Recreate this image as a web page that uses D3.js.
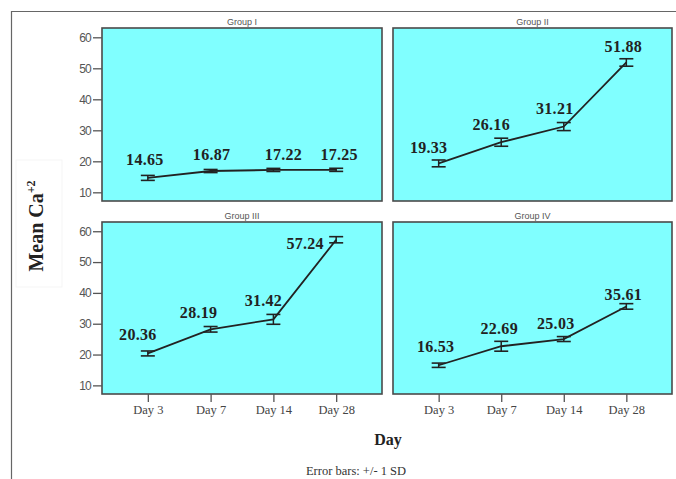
<!DOCTYPE html>
<html>
<head>
<meta charset="utf-8">
<script src="https://cdn.jsdelivr.net/npm/d3@7"></script>
<style>
  html, body { margin: 0; padding: 0; background: #fff; }
  svg { display: block; }
</style>
</head>
<body>
<svg id="chart" width="676" height="479"></svg>
<script>
// ---------- data ----------
const groups = ["Group I", "Group II", "Group III", "Group IV"];
const days = ["Day 3", "Day 7", "Day 14", "Day 28"];
const meanG1 = [14.65, 16.87, 17.22, 17.25];
const meanG2 = [19.33, 26.16, 31.21, 51.88];
const meanG3 = [20.36, 28.19, 31.42, 57.24];
const meanG4 = [16.53, 22.69, 25.03, 35.61];
const sdG1 = [0.8, 0.5, 0.5, 0.5];
const sdG2 = [1.1, 1.3, 1.3, 1.2];
const sdG3 = [0.8, 0.9, 1.6, 1.0];
const sdG4 = [0.7, 1.6, 0.8, 0.9];
const yTicks = [10, 20, 30, 40, 50, 60];
const yTitle = "Mean Ca";
const yTitleSup = "+2";
const xTitle = "Day";
const footnote = "Error bars: +/- 1 SD";

// ---------- layout (not data) ----------
const means = [meanG1, meanG2, meanG3, meanG4];
const sds = [sdG1, sdG2, sdG3, sdG4];
const labelNudge = [
  [[-3, -13], [1, -11], [10, -10], [3, -10]],
  [[-10, -10], [-10, -12], [-9, -13], [-3, -10]],
  [[-10, -13], [-12, -11], [-10, -13], [-31, 9]],
  [[-3, -13], [-2, -12], [-8, -10], [-3, -6]]
];
const colX = [102, 393];
const colW = [280, 279];
const rowY = [28, 222];
const rowH = [173, 172];

const svg = d3.select("#chart");

// outer frame lines
svg.append("line").attr("x1", 12).attr("x2", 676).attr("y1", 11.5).attr("y2", 11.5)
  .attr("stroke", "#666").attr("stroke-width", 1.2);
svg.append("line").attr("x1", 11.5).attr("x2", 11.5).attr("y1", 11).attr("y2", 479)
  .attr("stroke", "#666").attr("stroke-width", 1.2);

// faint box around y title
svg.append("rect").attr("x", 16).attr("y", 160).attr("width", 46).attr("height", 127)
  .attr("fill", "none").attr("stroke", "#f5f5f5");

groups.forEach((g, i) => {
  const col = i % 2, row = Math.floor(i / 2);
  const x0 = colX[col], y0 = rowY[row], w = colW[col], h = rowH[row];
  const x = d3.scalePoint().domain(days).range([x0, x0 + w]).padding(0.73);
  const y = d3.scaleLinear().domain([7.2, 63]).range([y0 + h, y0]);

  const panel = svg.append("g");
  panel.append("rect").attr("x", x0).attr("y", y0).attr("width", w).attr("height", h)
    .attr("fill", "#80FFFF").attr("stroke", "#4a4a4a").attr("stroke-width", 1.6);

  panel.append("text").attr("x", x0 + w / 2).attr("y", y0 - 3)
    .attr("text-anchor", "middle").attr("font-family", "Liberation Sans, Arial, sans-serif")
    .attr("font-size", 9).attr("fill", "#555").text(g);

  if (col === 0) {
    const ay = panel.append("g").attr("transform", `translate(${x0},0)`)
      .call(d3.axisLeft(y).tickValues(yTicks).tickSize(9).tickPadding(2).tickFormat(d3.format("d")));
    ay.select(".domain").remove();
    ay.selectAll("line").attr("stroke", "#555").attr("stroke-width", 1.3);
    ay.selectAll("text").attr("font-family", "Liberation Sans, Arial, sans-serif")
      .attr("font-size", 12).attr("fill", "#555").attr("letter-spacing", "-0.8");
  }
  if (row === 1) {
    const ax = panel.append("g").attr("transform", `translate(0,${y0 + h})`)
      .call(d3.axisBottom(x).tickSize(8).tickPadding(3));
    ax.select(".domain").remove();
    ax.selectAll("line").attr("stroke", "#555").attr("stroke-width", 1.3);
    ax.selectAll("text").attr("font-family", "Liberation Serif, Times New Roman, serif")
      .attr("font-size", 12.5).attr("fill", "#444");
  }

  const pts = days.map((d, j) => ({ d, v: means[i][j], sd: sds[i][j], n: labelNudge[i][j] }));

  panel.append("path").datum(pts)
    .attr("d", d3.line().x(p => x(p.d)).y(p => y(p.v)))
    .attr("fill", "none").attr("stroke", "#222").attr("stroke-width", 1.8);

  const eb = panel.selectAll(".eb").data(pts).enter().append("g");
  const cap = 7;
  eb.append("line").attr("x1", p => x(p.d)).attr("x2", p => x(p.d))
    .attr("y1", p => y(p.v - p.sd)).attr("y2", p => y(p.v + p.sd))
    .attr("stroke", "#222").attr("stroke-width", 1.5);
  eb.append("line").attr("x1", p => x(p.d) - cap).attr("x2", p => x(p.d) + cap)
    .attr("y1", p => y(p.v + p.sd)).attr("y2", p => y(p.v + p.sd))
    .attr("stroke", "#222").attr("stroke-width", 1.6);
  eb.append("line").attr("x1", p => x(p.d) - cap).attr("x2", p => x(p.d) + cap)
    .attr("y1", p => y(p.v - p.sd)).attr("y2", p => y(p.v - p.sd))
    .attr("stroke", "#222").attr("stroke-width", 1.6);

  panel.selectAll(".lbl").data(pts).enter().append("text")
    .attr("x", p => x(p.d) + p.n[0]).attr("y", p => y(p.v) + p.n[1])
    .attr("text-anchor", "middle")
    .attr("font-family", "Liberation Serif, Times New Roman, serif")
    .attr("font-weight", "bold").attr("font-size", 16).attr("fill", "#222")
    .attr("letter-spacing", "0.3")
    .text(p => p.v.toFixed(2));
});

// y title
const yt = svg.append("text").attr("transform", "translate(43,226) rotate(-90)")
  .attr("text-anchor", "middle").attr("font-family", "Liberation Serif, Times New Roman, serif")
  .attr("font-weight", "bold").attr("font-size", 20).attr("fill", "#222");
yt.append("tspan").text(yTitle);
yt.append("tspan").attr("font-size", 12).attr("dy", -8).text(yTitleSup);

// x title
svg.append("text").attr("x", 388).attr("y", 445).attr("text-anchor", "middle")
  .attr("font-family", "Liberation Serif, Times New Roman, serif")
  .attr("font-weight", "bold").attr("font-size", 16).attr("fill", "#222").text(xTitle);

// footnote
svg.append("text").attr("x", 356).attr("y", 475).attr("text-anchor", "middle")
  .attr("font-family", "Liberation Serif, Times New Roman, serif")
  .attr("font-size", 12.5).attr("fill", "#333").text(footnote);
</script>
</body>
</html>
